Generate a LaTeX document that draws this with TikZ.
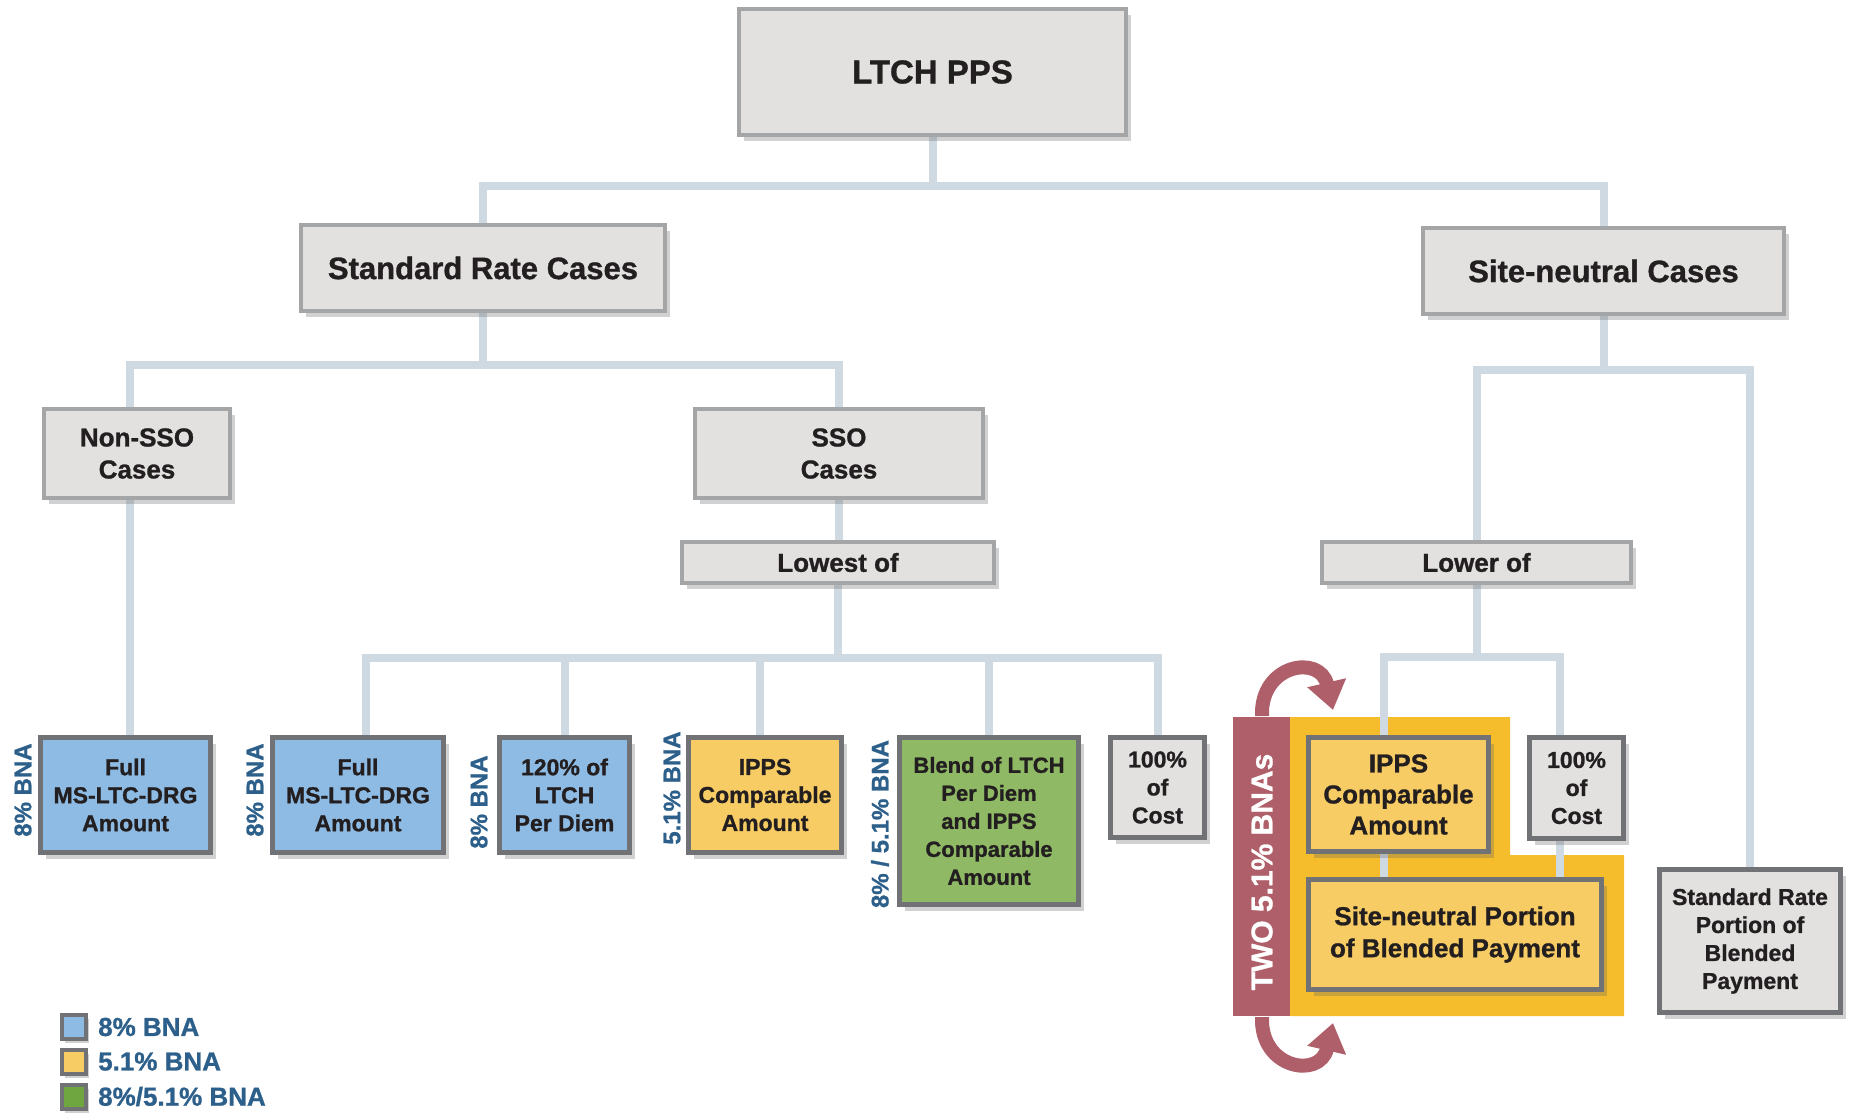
\documentclass[tikz,border=0pt]{standalone}
\usepackage{fontspec}
\setmainfont{Liberation Sans}[BoldFeatures={FakeBold=1}]
\usepackage{xcolor}
\usepackage{tikz}
\usetikzlibrary{arrows.meta,positioning,shadows,backgrounds}

\definecolor{boxgray}{HTML}{E2E1E0}
\definecolor{lightrim}{HTML}{A4A5A7}
\definecolor{darkrim}{HTML}{717275}
\definecolor{connblue}{HTML}{CFD9E2}
\definecolor{bnablue}{HTML}{2D5F8B}
\definecolor{boxblue}{HTML}{8EBBE3}
\definecolor{boxyellow}{HTML}{F8CC64}
\definecolor{boxgreen}{HTML}{8FB964}
\definecolor{legendgreen}{HTML}{6FA640}
\definecolor{bandyellow}{HTML}{F5BC2B}
\definecolor{bandred}{HTML}{AF5F69}
\definecolor{inkblack}{HTML}{231F20}

\begin{document}
\begin{tikzpicture}[
  x=1pt,y=-1pt,
  conn/.style={draw=connblue, line width=8pt},
  upper/.style={draw=lightrim, line width=4pt, fill=boxgray, align=center, inner sep=0pt,
    text=inkblack, font=\bfseries\fontsize{26}{32}\selectfont,
    drop shadow={shadow xshift=5pt, shadow yshift=-6pt, opacity=0.3, fill=black!60}},
  leaf/.style={upper, draw=darkrim, line width=5pt, font=\bfseries\fontsize{23}{28}\selectfont},
  bna/.style={rotate=90, text=bnablue, inner sep=0pt, font=\bfseries\fontsize{24}{24}\selectfont},
  legbox/.style={draw=darkrim, line width=4pt, minimum size=24pt, inner sep=0pt,
    drop shadow={shadow xshift=3pt, shadow yshift=-4pt, opacity=0.3, fill=black!60}},
  legtext/.style={text=bnablue, inner sep=0pt, anchor=west, font=\bfseries\fontsize{26}{26}\selectfont},
  bnaarrow/.style={draw=bandred, line width=14pt, -{Triangle[length=28pt,width=38pt]}}
]
\useasboundingbox (0,0) rectangle (1858,1114);

\node[upper, minimum width=387, minimum height=126, font=\bfseries\fontsize{33}{40}\selectfont] (ltch) at (932.5,72) {LTCH PPS};
\node[upper, minimum width=364, minimum height=86, font=\bfseries\fontsize{31}{36}\selectfont] (src) at (483,268) {Standard Rate Cases};
\node[upper, minimum width=361, minimum height=86, font=\bfseries\fontsize{31}{36}\selectfont] (snc) at (1603.5,271) {Site-neutral Cases};
\node[upper, minimum width=186, minimum height=89] (nonsso) at (137,453.5) {Non-SSO\\Cases};
\node[upper, minimum width=288, minimum height=89] (sso) at (839,453.5) {SSO\\Cases};
\node[upper, minimum width=312, minimum height=41] (lowest) at (838,562.5) {Lowest of};
\node[upper, minimum width=309, minimum height=41] (lower) at (1476.5,562.5) {Lower of};

\node[leaf, fill=boxblue, minimum width=170, minimum height=115] (fulla) at (125.5,795) {Full\\MS-LTC-DRG\\Amount};
\node[leaf, fill=boxblue, minimum width=171, minimum height=115] (fullb) at (358,795) {Full\\MS-LTC-DRG\\Amount};
\node[leaf, fill=boxblue, minimum width=130, minimum height=115] (per120) at (564.5,795) {120\% of\\LTCH\\Per Diem};
\node[leaf, fill=boxyellow, minimum width=153, minimum height=115] (ippsa) at (765,795) {IPPS\\Comparable\\Amount};
\node[leaf, fill=boxgreen, minimum width=179, minimum height=167, font=\bfseries\fontsize{22}{28}\selectfont] (blend) at (989,821) {Blend of LTCH\\Per Diem\\and IPPS\\Comparable\\Amount};
\node[leaf, minimum width=94, minimum height=100] (costa) at (1157.5,787.5) {100\%\\of\\Cost};
\node[leaf, fill=boxyellow, minimum width=180, minimum height=114, font=\bfseries\fontsize{26}{31}\selectfont] (ippsb) at (1398.5,794.5) {IPPS\\Comparable\\Amount};
\node[leaf, minimum width=94, minimum height=101] (costb) at (1576.5,788) {100\%\\of\\Cost};
\node[leaf, fill=boxyellow, minimum width=293, minimum height=110, font=\bfseries\fontsize{26}{32}\selectfont] (snp) at (1455,934.5) {Site-neutral Portion\\of Blended Payment};
\node[leaf, minimum width=181, minimum height=143] (srp) at (1750,941) {Standard Rate\\Portion of\\Blended\\Payment};

\node[bna] (bnaa) at (23,790) {8\% BNA};
\node[bna] (bnab) at (255,790) {8\% BNA};
\node[bna] (bnac) at (479,802) {8\% BNA};
\node[bna] (bnad) at (672,788) {5.1\% BNA};
\node[bna] (bnae) at (880,824) {8\% / 5.1\% BNA};

\node[legbox, fill=boxblue] (leg1) at (74,1027) {};
\node[legbox, fill=boxyellow] (leg2) at (74,1061.5) {};
\node[legbox, fill=legendgreen] (leg3) at (74,1096.5) {};
\node[legtext, right=10pt of leg1] {8\% BNA};
\node[legtext, right=10pt of leg2] {5.1\% BNA};
\node[legtext, right=10pt of leg3] {8\%/5.1\% BNA};

\coordinate (bus1) at (0,186);
\coordinate (bus2) at (0,365);
\coordinate (bus3) at (0,370);
\coordinate (bus4) at (0,658);
\coordinate (bus5) at (0,657);

\begin{scope}[on background layer]
\fill[bandyellow] (1290,717) -| (1510,855) -| (1624,1016) -| cycle;
\fill[bandred] (1233,717) rectangle (1290,1016);
\node[rotate=90, text=white, inner sep=0pt, font=\bfseries\fontsize{30}{30}\selectfont] (two) at (1262,872) {TWO 5.1\% BNAs};
\draw[bnaarrow] (1262,716) .. controls (1260,664) and (1320,654) .. (1333,710);
\draw[bnaarrow] (1262,1017) .. controls (1260,1069) and (1320,1079) .. (1333,1023);

\draw[conn] (ltch.south) -- (ltch.south |- bus1);
\draw[conn] (src.north) |- (snc.north |- bus1) -- (snc.north);
\draw[conn] (src.south) -- (src.south |- bus2);
\draw[conn] ([xshift=-7pt]nonsso.north) |- (sso.north |- bus2) -- (sso.north);
\draw[conn] (snc.south) -- (snc.south |- bus3);
\draw[conn] (lower.north) |- (srp.north |- bus3) -- (srp.north);
\draw[conn] ([xshift=-7pt]nonsso.south) -- ([xshift=-7pt]nonsso.south |- fulla.north);
\draw[conn] (sso.south) -- (sso.south |- lowest.north);
\draw[conn] (lowest.south) -- (lowest.south |- bus4);
\draw[conn] ([xshift=8pt]fullb.north) |- (costa.north |- bus4) -- (costa.north);
\draw[conn] ([xshift=-5pt]ippsa.north) -- ([xshift=-5pt]ippsa.north |- bus4);
\foreach \n in {per120,blend}
  \draw[conn] (\n.north) -- (\n.north |- bus4);
\draw[conn] (lower.south) -- (lower.south |- bus5);
\draw[conn] ([xshift=-15pt]ippsb.north) |- ([xshift=-17pt]costb.north |- bus5) -- ([xshift=-17pt]costb.north);
\draw[conn] ([xshift=-15pt]ippsb.south) -- ([xshift=-15pt]ippsb.south |- snp.north);
\draw[conn] ([xshift=-17pt]costb.south) -- ([xshift=-17pt]costb.south |- snp.north);
\end{scope}
\end{tikzpicture}
\end{document}
